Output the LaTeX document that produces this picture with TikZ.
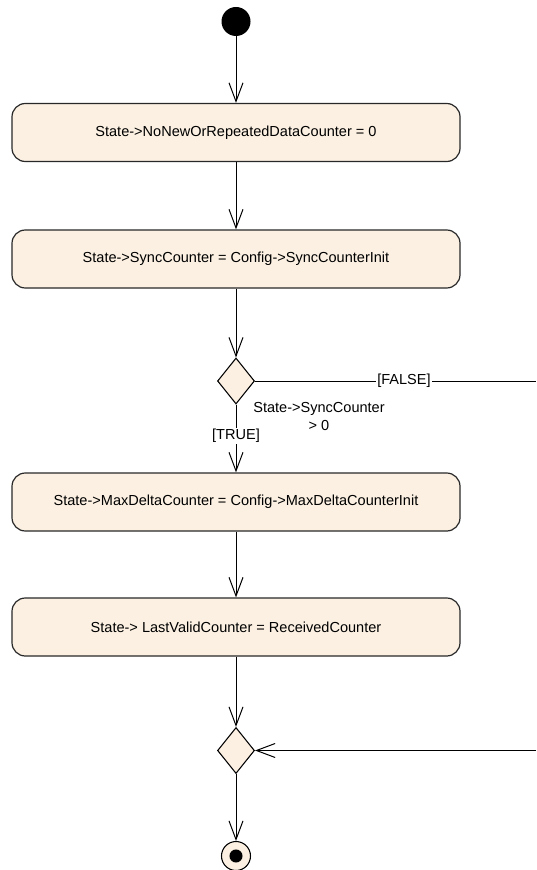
\documentclass[tikz,border=0pt]{standalone}
\usepackage{fontspec}
\setmainfont{Liberation Sans}
\usetikzlibrary{arrows.meta,shapes.geometric}
\definecolor{actfill}{RGB}{251,240,226}
\definecolor{actline}{RGB}{40,40,40}

\begin{document}
\begin{tikzpicture}[x=0.75pt, y=-0.75pt,
    every node/.style={font=\fontsize{10.9pt}{14pt}\selectfont},
    action/.style={draw=actline, line width=0.9pt, fill=actfill, rounded corners=10pt, minimum width=336pt, minimum height=43.5pt, inner sep=0pt},
    decision/.style={draw, line width=0.8pt, fill=actfill, diamond, minimum width=27.75pt, minimum height=34.5pt, inner sep=0pt},
    flow/.style={line width=0.75pt, -{Straight Barb[length=14pt, width=10.5pt, line width=0.75pt]}},
    guard/.style={fill=white, inner sep=1pt}]
    \useasboundingbox (0,0) rectangle (536,870);

    \node[circle, fill=black, minimum size=21.75pt, inner sep=0pt] (init) at (236, 21.5) {};
    \node[action] (nonew) at (236, 132.5) {State->NoNewOrRepeatedDataCounter = 0};
    \node[action] (sync) at (236, 259) {State->SyncCounter = Config->SyncCounterInit};
    \node[decision] (syncdec) at (236, 381) {};
    \node[align=center, inner sep=0pt] (cond) at (319, 416.5) {State->SyncCounter\\> 0};
    \node[action] (maxdelta) at (236, 502) {State->MaxDeltaCounter = Config->MaxDeltaCounterInit};
    \node[action] (lastvalid) at (236, 627) {State-> LastValidCounter = ReceivedCounter};
    \node[decision] (merge) at (236, 750.5) {};
    \node[circle, draw, line width=0.8pt, fill=actfill, minimum size=21.75pt, inner sep=0pt,
        path picture={\fill[black] (path picture bounding box.center) circle (4.9pt);}] (final) at (236, 856) {};

    % the way round on the right runs past the edge of the picture
    \coordinate (falseout) at (536, 381);
    \coordinate (falsein) at (536, 750.5);

    \draw[flow] (init) to (nonew);
    \draw[flow] (nonew) to (sync);
    \draw[flow] (sync) to (syncdec);
    \draw[flow] (syncdec) to node[guard, pos=0.46] {[TRUE]} (maxdelta);
    \draw[line width=0.75pt] (syncdec.east) to node[guard, pos=0.53] {[FALSE]} (falseout);
    \draw[flow] (maxdelta) to (lastvalid);
    \draw[flow] (lastvalid) to (merge);
    \draw[flow] (falsein) to (merge.east);
    \draw[flow] (merge) to (final);

\end{tikzpicture}
\end{document}
